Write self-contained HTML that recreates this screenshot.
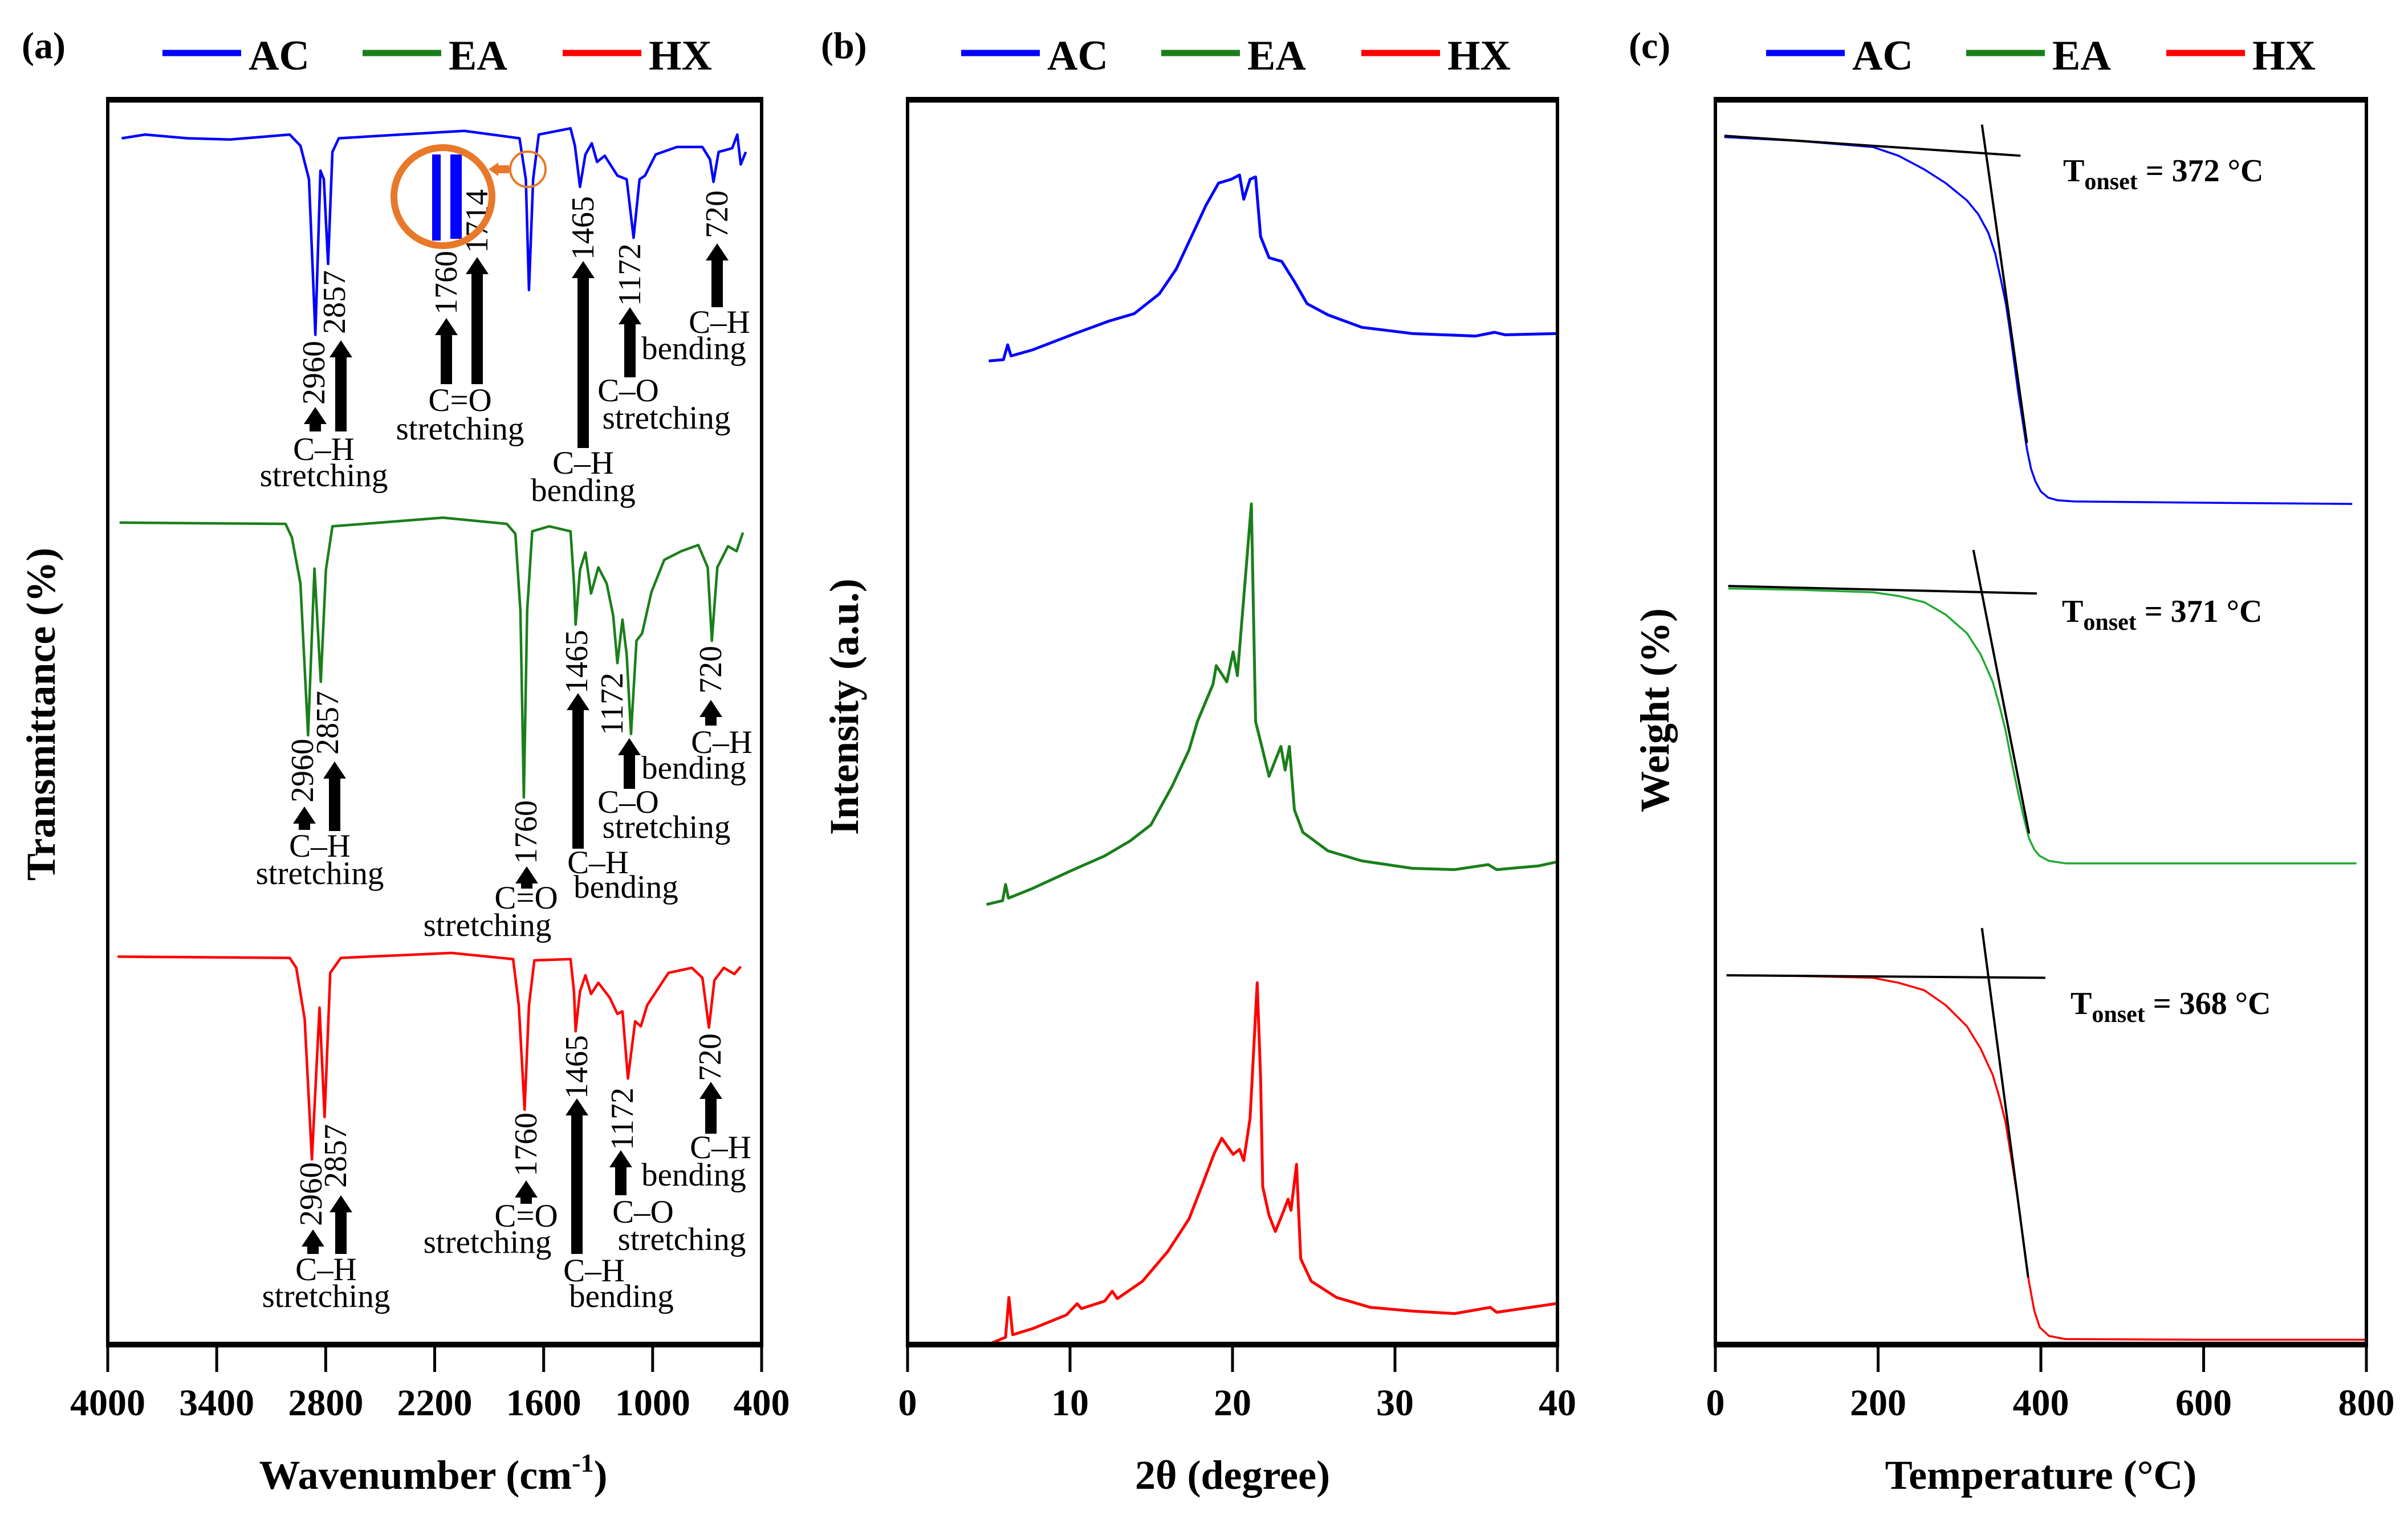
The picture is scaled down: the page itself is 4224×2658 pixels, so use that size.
<!DOCTYPE html>
<html>
<head>
<meta charset="utf-8">
<style>
html,body{margin:0;padding:0;background:#fff;}
svg{display:block;}
text{font-family:"Liberation Serif",serif;fill:#000;}
.tick{font-size:66px;font-weight:bold;}
.title{font-size:72px;font-weight:bold;}
.leg{font-size:74px;font-weight:bold;}
.ann{font-size:56px;}
.annb{font-size:57px;}
.ton{font-size:56px;font-weight:bold;}
</style>
</head>
<body>
<svg id="fig" width="4224" height="2658" viewBox="0 0 4224 2658" xmlns="http://www.w3.org/2000/svg">
  <rect x="0" y="0" width="4224" height="2658" fill="#fff"/>
  <text x="38" y="102" font-size="66" font-weight="bold">(a)</text>
  <text x="1440" y="102" font-size="66" font-weight="bold">(b)</text>
  <text x="2857" y="102" font-size="66" font-weight="bold">(c)</text>
  <text class="title" x="760" y="2612" text-anchor="middle">Wavenumber (cm<tspan font-size="46" dy="-30">-1</tspan><tspan dy="30">)</tspan></text>
  <text class="title" x="2162" y="2612" text-anchor="middle">2θ (degree)</text>
  <text class="title" x="3580" y="2612" text-anchor="middle">Temperature (°C)</text>
  <text class="title" transform="translate(96,1253) rotate(-90)" text-anchor="middle">Transmittance (%)</text>
  <text class="title" transform="translate(1505,1240) rotate(-90)" text-anchor="middle">Intensity (a.u.)</text>
  <text class="title" transform="translate(2927,1246) rotate(-90)" text-anchor="middle">Weight (%)</text>
  <g id="legends"></g>
  <g id="curves"></g>
  <g id="annots"></g>
  <g id="axes"></g>
  <text class="ton" x="3619" y="318">T<tspan font-size="42" dy="14">onset</tspan><tspan dy="-14"> = 372 °C</tspan></text>
  <text class="ton" x="3617" y="1091">T<tspan font-size="42" dy="14">onset</tspan><tspan dy="-14"> = 371 °C</tspan></text>
  <text class="ton" x="3632" y="1779">T<tspan font-size="42" dy="14">onset</tspan><tspan dy="-14"> = 368 °C</tspan></text>
</svg>
<script>
// ---------- FTIR data (panel a) ----------
const acWn = [3923,3794,3560,3326,2998,2939,2892,2857,2829,2810,2787,2763,2728,2389,2037,1733,1698,1681,1658,1627,1452,1428,1400,1370,1335,1306,1264,1194,1143,1105,1072,1042,983,866,726,684,665,637,562,534,515,487];
const acT  = [96.9,97.2,96.9,96.8,97.2,96.3,93.6,81.1,94.3,93.6,86.8,95.8,96.9,97.2,97.5,96.9,93.6,84.7,93.6,97.2,97.7,96.3,93.0,95.6,96.5,95.0,95.5,93.9,93.6,88.9,93.6,93.9,95.6,96.2,96.2,95.2,93.4,95.8,96.1,97.2,94.8,95.8];
const eaWn = [3935,3021,2986,2939,2897,2862,2827,2799,2763,2154,1803,1756,1728,1709,1691,1663,1569,1452,1433,1424,1400,1370,1339,1299,1253,1217,1194,1166,1143,1119,1089,1058,1007,936,843,749,697,674,644,585,538,503];
const eaT  = [66.0,65.9,64.8,61.1,48.9,62.3,53.2,62.2,65.7,66.4,65.9,65.1,58.9,43.9,58.9,65.3,65.7,65.3,61.1,57.8,62.2,63.6,60.3,62.4,61.1,58.5,54.7,58.2,55.4,49.0,56.5,57.1,60.4,63.0,63.7,64.2,62.4,56.5,62.4,64.1,63.7,65.2];
const hxWn = [3946,2998,2962,2916,2876,2834,2806,2775,2717,2108,1768,1737,1705,1681,1651,1452,1433,1424,1400,1370,1339,1299,1236,1194,1166,1136,1096,1065,1030,913,784,726,690,660,608,550,515];
const hxT  = [31.1,31.0,30.2,26.1,14.8,27.0,18.2,29.8,31.0,31.4,30.9,27.2,18.8,27.2,30.8,30.9,28.3,25.1,28.3,29.6,28.1,29.0,27.8,26.5,26.7,21.3,25.9,25.5,27.2,29.8,30.2,29.4,25.4,29.2,30.2,29.7,30.3];
// ---------- XRD data (panel b) ----------
const acTheta = [5.0,5.9,6.16,6.37,7.72,10.31,12.39,13.95,15.5,16.54,17.58,18.36,19.14,19.92,20.43,20.69,21.08,21.42,21.73,22.25,23.03,23.8,24.59,25.88,27.96,31.07,34.97,36.13,36.78,39.9];
const acI     = [79.0,79.1,80.3,79.4,79.9,81.2,82.2,82.8,84.4,86.4,89.3,91.5,93.3,93.6,93.95,92.0,93.6,93.8,89.0,87.3,87.0,85.4,83.6,82.7,81.7,81.2,81.0,81.3,81.1,81.2];
const eaTheta = [4.86,5.85,6.03,6.21,7.72,10.05,12.13,13.69,14.98,16.28,17.32,17.84,18.8,19.0,19.65,20.04,20.3,21.16,21.42,21.86,22.25,22.64,22.98,23.24,23.5,23.81,24.33,25.88,27.96,31.07,33.67,35.74,36.26,38.86,39.9];
const eaI     = [35.3,35.6,36.9,35.8,36.6,38.0,39.2,40.4,41.7,44.8,47.7,50.0,53.0,54.5,53.2,55.6,53.7,67.5,50.0,47.7,45.6,46.9,48.0,46.1,48.0,42.9,41.1,39.6,38.8,38.2,38.1,38.5,38.1,38.4,38.7];
const hxTheta = [5.12,6.03,6.24,6.47,7.72,9.79,10.44,10.7,12.13,12.6,12.91,14.46,16.02,17.32,18.1,18.88,19.34,20.04,20.43,20.69,21.08,21.34,21.52,21.73,21.86,22.25,22.64,23.16,23.42,23.6,23.94,24.2,24.85,26.4,28.48,31.07,33.67,35.87,36.26,39.9];
const hxI     = [0.0,0.5,3.7,0.7,1.2,2.3,3.2,2.8,3.4,4.2,3.6,5.0,7.4,10.0,12.6,15.3,16.5,15.2,15.6,14.7,18.1,24.5,29.0,21.3,12.6,10.3,9.0,10.7,11.6,10.7,14.4,6.8,5.0,3.7,2.9,2.6,2.4,2.9,2.5,3.2];
// ---------- TGA data (panel c) ----------
const acTemp = [11,100,193.5,225,256.7,283,309.2,323,335.5,344,351.3,357,361.8,367,372.3,378,382.9,388,393.4,400,409.2,420,440.7,600,782.6];
const acW    = [97.0,96.7,96.2,95.5,94.4,93.3,91.9,90.8,89.3,87.6,85.4,83.6,81.5,79.0,76.4,74.0,71.9,70.3,69.3,68.5,68.0,67.8,67.7,67.6,67.5];
const eaTemp = [15.8,100,193.5,225,256.7,283,309.2,326,340.8,349,356.6,364,372.3,379,385.5,392,398.6,410,430.2,600,787.8];
const eaW    = [60.7,60.6,60.4,60.1,59.6,58.6,57.1,55.4,53.2,51.3,49.3,46.8,44.2,42.3,40.6,39.7,39.2,38.8,38.6,38.6,38.6];
const hxTemp = [13.7,100,193.5,225,256.7,283,309.2,326,340.8,349,356.6,364,372.3,379,385.5,392,398.6,410,430.2,600,798.3];
const hxW    = [29.6,29.55,29.4,29.0,28.4,27.2,25.5,23.7,21.6,19.8,17.8,14.8,11.3,8.0,4.9,2.6,1.3,0.6,0.35,0.3,0.3];
const acTanH = [11.1,97.1,375,95.5];
const acTanS = [327.6,98.0,382.9,72.4];
const eaTanH = [15.8,60.9,395,60.3];
const eaTanS = [317.1,63.8,385.5,41.0];
const hxTanH = [13.7,29.6,405.5,29.4];
const hxTanS = [327.6,33.4,384.4,5.3];
const aTicks = [4000,3400,2800,2200,1600,1000,400];
const bTicks = [0,10,20,30,40];
const cTicks = [0,200,400,600,800];
const seriesNames = ["AC","EA","HX"];
const seriesColors = ["#0000ff","#1a7f1a","#ff0000"];

const TOP=175, BOT=2357;
const A={l:189,r:1336}, B={l:1592,r:2732}, C={l:3009,r:4151};
function xA(w){return A.l+(4000-w)/3600*(A.r-A.l);}
function xB(t){return B.l+t/40*(B.r-B.l);}
function xC(T){return C.l+T/800*(C.r-C.l);}
function yV(v){return BOT-v/100*(BOT-TOP);}

const NS="http://www.w3.org/2000/svg";
function mk(tag,attrs,parent){const e=document.createElementNS(NS,tag);for(const k in attrs)e.setAttribute(k,attrs[k]);parent.appendChild(e);return e;}
const curves=document.getElementById('curves');
const axes=document.getElementById('axes');
const annots=document.getElementById('annots');
const legends=document.getElementById('legends');

function drawLine(xs,ys,fx,color,width,name){
  let d='';
  for(let i=0;i<xs.length;i++){d+=(i?'L':'M')+fx(xs[i]).toFixed(1)+','+yV(ys[i]).toFixed(1);}
  const p=mk('path',{d:d,fill:'none',stroke:color,'stroke-width':width,'stroke-linejoin':'round'},curves);
  
  
}
drawLine(acWn,acT,xA,seriesColors[0],4.5,'ftir-ac-line');
drawLine(eaWn,eaT,xA,seriesColors[1],4.5,'ftir-ea-line');
drawLine(hxWn,hxT,xA,seriesColors[2],4.5,'ftir-hx-line');
drawLine(acTheta,acI,xB,seriesColors[0],5,'xrd-ac-line');
drawLine(eaTheta,eaI,xB,seriesColors[1],5,'xrd-ea-line');
drawLine(hxTheta,hxI,xB,seriesColors[2],5,'xrd-hx-line');
drawLine(acTemp,acW,xC,seriesColors[0],3.5,'tga-ac-line');
drawLine(eaTemp,eaW,xC,'#22aa33',3.5,'tga-ea-line');
drawLine(hxTemp,hxW,xC,seriesColors[2],3.5,'tga-hx-line');
function tan(t,name){
  const l=mk('line',{x1:xC(t[0]),y1:yV(t[1]),x2:xC(t[2]),y2:yV(t[3]),stroke:'#000','stroke-width':4},curves);
  
  
}
tan(acTanH,'tangent-ac-baseline');tan(acTanS,'tangent-ac-slope');
tan(eaTanH,'tangent-ea-baseline');tan(eaTanS,'tangent-ea-slope');
tan(hxTanH,'tangent-hx-baseline');tan(hxTanS,'tangent-hx-slope');

function frame(P,ticks,fx,key){
  const g=mk('g',{},axes);
  
  
  mk('line',{x1:P.l-3,y1:TOP,x2:P.r+3,y2:TOP,stroke:'#000','stroke-width':10},g);
  mk('line',{x1:P.l-3,y1:BOT+2,x2:P.r+3,y2:BOT+2,stroke:'#000','stroke-width':10},g);
  mk('line',{x1:P.l,y1:TOP,x2:P.l,y2:BOT,stroke:'#000','stroke-width':6},g);
  mk('line',{x1:P.r,y1:TOP,x2:P.r,y2:BOT,stroke:'#000','stroke-width':6},g);
  ticks.forEach(function(t){
    const x=fx(t);
    const tk=mk('line',{x1:x,y1:BOT,x2:x,y2:BOT+50,stroke:'#000','stroke-width':5},g);
    
    
    const tl=mk('text',{x:x,y:BOT+126,'text-anchor':'middle','class':'tick'},g);
    tl.textContent=t;
    
    
  });
}
frame(A,aTicks,xA,'a');frame(B,bTicks,xB,'b');frame(C,cTicks,xC,'c');

[285,1686,3098].forEach(function(x0,pi){
  for(let i=0;i<3;i++){
    const x=x0+i*351;
    const g=mk('g',{},legends);
    
    
    mk('line',{x1:x,y1:93,x2:x+138,y2:93,stroke:seriesColors[i],'stroke-width':11},g);
    const t=mk('text',{x:x+151,y:122,'class':'leg'},g);
    t.textContent=seriesNames[i];
  }
});

const arrows = [
 [553,714,757],[598,597,757],[783,558,674],[837,451,674],[1023,458,786],[1105,539,662],[1258,427,539],
 [534,1415,1456],[587,1336,1458],[924,1520,1559],[1014,1216,1489],[1104,1295,1384],[1247,1228,1273],
 [549,2157,2200],[598,2097,2200],[923,2071,2112],[1012,1927,2200],[1089,2018,2097],[1247,1898,1989]
];
arrows.forEach(function(a){
  const x=a[0],t=a[1],b=a[2],hw=20,sw=10,hh=30;
  const p=mk('polygon',{points:[x,t, x+hw,t+hh, x+sw,t+hh, x+sw,b, x-sw,b, x-sw,t+hh, x-hw,t+hh].join(','),fill:'#000'},annots);
  
  
});
const rlabels = [
 ['2960',551,654],['2857',587,530],['1760',783,496],['1714',837,388],['1465',1023,400],['1172',1105,482],['720',1258,376],
 ['2960',531,1352],['2857',575,1268],['1760',923,1460],['1465',1012,1161],['1172',1074,1235],['720',1247,1175],
 ['2960',546,2095],['2857',589,2028],['1760',923,2008],['1465',1012,1872],['1172',1092,1963],['720',1246,1855]
];
rlabels.forEach(function(r){
  const t=mk('text',{transform:'translate('+r[1]+','+r[2]+') rotate(-90)','text-anchor':'middle','dominant-baseline':'central','class':'ann'},annots);
  t.textContent=r[0];
  
  
});
const blabels = [
 ['C–H',568,807],['stretching',568,853],['C=O',807,721],['stretching',807,771],['C–H',1023,831],['bending',1023,879],
 ['C–O',1102,704],['stretching',1169,752],['C–H',1262,584],['bending',1217,630],
 ['C–H',561,1503],['stretching',561,1551],['C=O',923,1594],['stretching',855,1642],['C–H',1049,1532],['bending',1098,1575],
 ['C–O',1102,1426],['stretching',1169,1470],['C–H',1266,1321],['bending',1217,1366],
 ['C–H',572,2246],['stretching',572,2293],['C=O',923,2152],['stretching',855,2198],['C–H',1042,2248],['bending',1090,2293],
 ['C–O',1128,2145],['stretching',1196,2193],['C–H',1264,2032],['bending',1217,2080]
];
blabels.forEach(function(b){
  const t=mk('text',{x:b[1],y:b[2],'text-anchor':'middle','class':'annb'},annots);
  t.textContent=b[0];
  
  
});
(function(){
  const g=mk('g',{},annots);
  
  
  mk('rect',{x:758,y:271,width:15,height:151,fill:'#0000ff'},g);
  mk('rect',{x:790,y:271,width:20,height:148,fill:'#0000ff'},g);
  mk('circle',{cx:777,cy:345,r:86,fill:'none',stroke:'#e8782a','stroke-width':12},g);
  mk('circle',{cx:926,cy:297,r:31,fill:'none',stroke:'#e8782a','stroke-width':4},g);
  mk('rect',{x:872,y:290,width:21,height:14,fill:'#e8782a'},g);
  mk('polygon',{points:'857,297 874,285 874,309',fill:'#e8782a'},g);
})();
</script>
</body>
</html>
